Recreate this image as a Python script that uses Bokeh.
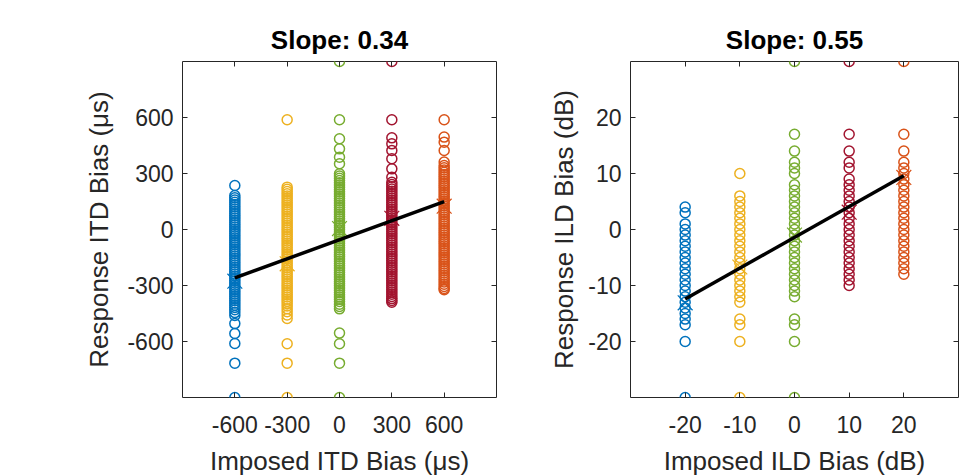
from bokeh.plotting import figure
from bokeh.layouts import row
from bokeh.models import LinearAxis, FixedTicker, Range1d
from bokeh.embed import file_html
from bokeh.resources import INLINE

# ---------------- data ----------------
colors = ["#0072BD", "#EDB120", "#77AC30", "#A2142F", "#D95319"]

itd_levels = [-600, -300, 0, 300, 600]
itd_ticks = [-600, -300, 0, 300, 600]
itd_tick_labels = ["-600", "-300", "0", "300", "600"]

itd_blue = [236, 182, 170, 158, 146, 134, 122, 110, 98, 86, 74, 62, 50, 38, 26, 14, 2,
            -10, -22, -34, -46, -58, -70, -82, -94, -106, -118, -130, -142, -154, -166,
            -178, -190, -202, -214, -226, -238, -250, -262, -274, -286, -298, -310, -322,
            -334, -346, -358, -370, -382, -394, -406, -418, -430, -445, -461, -504, -557,
            -611, -716, -900]
itd_yellow = [588, 227, 215, 203, 191, 179, 167, 155, 143, 131, 119, 107, 95, 83, 71, 59,
              47, 35, 23, 11, -1, -13, -25, -37, -49, -61, -73, -85, -97, -109, -121, -133,
              -145, -157, -169, -181, -193, -205, -217, -229, -241, -253, -265, -277, -289,
              -301, -313, -325, -337, -349, -361, -373, -385, -397, -410, -425, -440, -458,
              -477, -612, -716, -900]
itd_green = [900, 588, 486, 432, 387, 352, 298, 286, 274, 262, 250, 238, 226, 214, 202,
             190, 178, 166, 154, 142, 130, 118, 106, 94, 82, 70, 58, 46, 34, 22, 10, -2,
             -14, -26, -38, -50, -62, -74, -86, -98, -110, -122, -134, -146, -158, -170,
             -182, -194, -206, -218, -230, -242, -254, -266, -278, -290, -302, -314, -326,
             -338, -350, -362, -374, -386, -400, -412, -425, -555, -612, -716, -900]
itd_red = [900, 588, 491, 459, 423, 379, 325, 280, 253, 241, 229, 217, 205, 193, 181, 169,
           157, 145, 133, 121, 109, 97, 85, 73, 61, 49, 37, 25, 13, 1, -11, -23, -35, -47,
           -59, -71, -83, -95, -107, -119, -131, -143, -155, -167, -179, -191, -203, -215,
           -227, -239, -251, -263, -275, -287, -299, -311, -323, -335, -347, -359, -370,
           -380, -390]
itd_orange = [588, 495, 468, 423, 361, 343, 331, 319, 307, 295, 283, 271, 259, 247, 235,
              223, 211, 199, 187, 175, 163, 151, 139, 127, 115, 103, 91, 79, 67, 55, 43, 31,
              19, 7, -5, -17, -29, -41, -53, -65, -77, -89, -101, -113, -125, -137, -149,
              -161, -173, -185, -197, -209, -221, -233, -245, -257, -269, -281, -293, -305,
              -316, -323]
itd_means = [-277, -184, 5, 60, 125]
itd_fit_x = [-600, 600]
itd_fit_y = [-259, 149]

ild_levels = [-20, -10, 0, 10, 20]
ild_ticks = [-20, -10, 0, 10, 20]
ild_tick_labels = ["-20", "-10", "0", "10", "20"]

ild_blue = [4, 3, 1, 0, -1, -2, -3, -4, -5, -6, -7, -8, -9, -10, -11, -12, -13, -14, -15,
            -16, -17, -20, -30]
ild_yellow = [10, 6, 5, 4, 3, 2, 1, 0, -1, -2, -3, -4, -5, -6, -7, -8, -9, -10, -11, -12,
              -13, -16, -17, -20, -30]
ild_green = [30, 17, 14, 12, 11, 10, 8, 7, 6, 5, 4, 3, 2, 1, 0, -1, -2, -3, -4, -5, -6,
             -7, -8, -9, -10, -11, -12, -16, -17, -20, -30]
ild_red = [30, 17, 14, 12, 11, 9, 8, 7, 6, 5, 4, 3, 2, 1, 0, -1, -2, -3, -4, -5, -6, -7,
           -8, -9, -10]
ild_orange = [30, 17, 14, 12, 11, 10, 9, 8, 7, 6, 5, 4, 3, 2, 1, 0, -1, -2, -3, -4, -5,
              -6, -7, -8]
ild_means = [-13.1, -6.7, -1.0, 3.1, 9.3]
ild_fit_x = [-20, 20]
ild_fit_y = [-12.4, 9.6]

FONT = "Liberation Sans"
TXT = "#262626"
TICK_PX = "23px"
LABEL_PX = "26px"
TITLE_PX = "26px"


def make_panel(levels, columns, means, fit_x, fit_y, xr, yr, ticks, tick_labels,
               xlabel, ylabel, title, frame_w, border_left, border_right, ylab_standoff):
    p = figure(frame_width=frame_w, frame_height=336,
               x_range=Range1d(*xr), y_range=Range1d(*yr),
               output_backend="svg", toolbar_location=None,
               min_border_left=border_left, min_border_right=border_right,
               min_border_top=61, min_border_bottom=78)
    p.grid.visible = False
    p.outline_line_color = TXT
    p.outline_line_width = 1
    p.background_fill_color = "white"
    p.border_fill_color = "white"

    labels = {t: l for t, l in zip(ticks, tick_labels)}
    for ax in (p.xaxis[0], p.yaxis[0]):
        ax.ticker = FixedTicker(ticks=ticks)
        ax.major_label_overrides = labels
        ax.major_tick_in = 5
        ax.major_tick_out = 0
        ax.minor_tick_line_color = None
        ax.axis_line_color = None
        ax.major_tick_line_color = TXT
        ax.major_label_text_font = FONT
        ax.major_label_text_font_size = TICK_PX
        ax.major_label_text_color = TXT
        ax.axis_label_text_font = FONT
        ax.axis_label_text_font_size = LABEL_PX
        ax.axis_label_text_font_style = "normal"
        ax.axis_label_text_color = TXT
    p.xaxis[0].axis_label = xlabel
    p.yaxis[0].axis_label = ylabel
    p.xaxis[0].major_label_standoff = 18
    p.xaxis[0].axis_label_standoff = 10
    p.yaxis[0].major_label_standoff = 9
    p.yaxis[0].axis_label_standoff = ylab_standoff

    # inward tick marks on the top and right edges (box on), no labels
    for loc in ("above", "right"):
        ax = LinearAxis(ticker=FixedTicker(ticks=[], minor_ticks=ticks),
                        minor_tick_in=5, minor_tick_out=0, minor_tick_line_color=TXT,
                        major_tick_line_color=None, axis_line_color=None)
        p.add_layout(ax, loc)

    p.title.text = title
    p.title.align = "center"
    p.title.text_font = FONT
    p.title.text_font_size = TITLE_PX
    p.title.text_font_style = "bold"
    p.title.text_color = "black"
    p.title.standoff = 14

    for lvl, vals, c, m in zip(levels, columns, colors, means):
        p.scatter(x=[lvl], y=[m], marker="x", size=21, line_color=c, line_width=1.2)
        p.scatter(x=[lvl] * len(vals), y=vals, marker="circle", size=10,
                  fill_color=None, line_color=c, line_width=1.5)
    p.line(x=fit_x, y=fit_y, line_color="black", line_width=3.5)
    return p


p1 = make_panel(itd_levels, [itd_blue, itd_yellow, itd_green, itd_red, itd_orange],
                itd_means, itd_fit_x, itd_fit_y, (-900, 900), (-900, 900),
                itd_ticks, itd_tick_labels,
                "Imposed ITD Bias (\u03bcs)", "Response ITD Bias (\u03bcs)", "Slope: 0.34",
                314, 182, 49, 10)
p2 = make_panel(ild_levels, [ild_blue, ild_yellow, ild_green, ild_red, ild_orange],
                ild_means, ild_fit_x, ild_fit_y, (-30, 30), (-30, 30),
                ild_ticks, ild_tick_labels,
                "Imposed ILD Bias (dB)", "Response ILD Bias (dB)", "Slope: 0.55",
                328, 85, 4, 6)

layout = row(p1, p2, spacing=0)
open("out.html", "w").write(file_html(layout, INLINE))
